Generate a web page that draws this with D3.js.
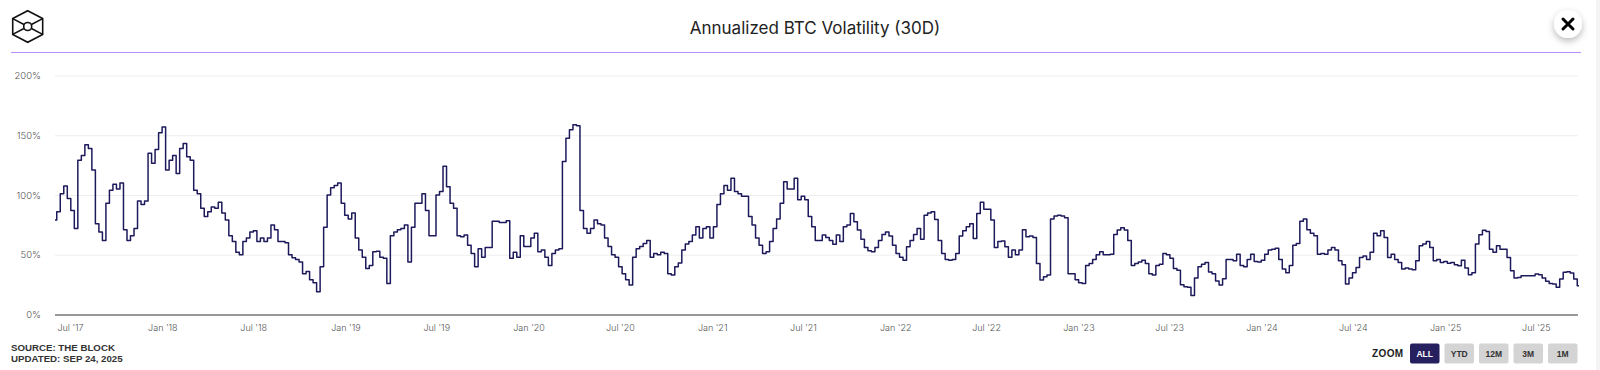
<!DOCTYPE html>
<html>
<head>
<meta charset="utf-8">
<title>Annualized BTC Volatility (30D)</title>
<script src="https://cdn.jsdelivr.net/npm/d3@7"></script>
<style>
  html, body { margin: 0; padding: 0; background: #fff; overflow: hidden; }
  svg { display: block; }
</style>
</head>
<body>
<div id="chart"></div>
<script>
const titleText = 'Annualized BTC Volatility (30D)';
const sourceLines = ['SOURCE: THE BLOCK', 'UPDATED: SEP 24, 2025'];
const zoomLabels = ['ALL', 'YTD', '12M', '3M', '1M'];

// one reading per week from this date, percent
const firstDate = '2017-06-01';
const lastDate = '2025-09-23';
const stepDays = 7;

const yTicks = [0, 50, 100, 150, 200];
const xTickDates = ['2017-07-01', '2018-01-01', '2018-07-01', '2019-01-01', '2019-07-01', '2020-01-01',
  '2020-07-01', '2021-01-01', '2021-07-01', '2022-01-01', '2022-07-01', '2023-01-01', '2023-07-01',
  '2024-01-01', '2024-07-01', '2025-01-01', '2025-07-01'];

const vol2017 = [79, 86, 101, 107.5, 97, 87, 72, 129, 133, 142, 139, 121, 76, 69, 62, 93, 104, 109, 105, 110,
  71, 62, 66, 72, 95, 92, 95, 135, 126.5, 138, 152];
const vol2018 = [157, 121, 129, 133, 118, 139, 143, 132, 129, 104, 101, 89, 82, 86, 90, 89, 94, 85, 79, 66, 61,
  52, 50, 61, 64, 69, 70, 61, 64, 61, 64, 75, 71, 61, 61, 60, 50, 47.5, 46, 44, 34, 36, 29, 26.5, 19, 40, 73, 100,
  106, 108, 110, 93];
const vol2019 = [83, 80, 85, 64, 54, 48, 38.5, 41, 52.5, 53, 48, 47, 26, 66, 69, 71, 72, 75, 44, 73, 93, 93, 101,
  87, 66, 66, 100, 103, 124, 107, 93, 89, 66, 65, 66.5, 58, 51, 40, 55, 48, 56, 56, 78, 78, 77, 77, 78.5, 47, 52,
  48, 66, 57];
const vol2020 = [57, 64, 68, 52.5, 54, 48, 41, 51, 54, 55, 128, 147.5, 154.5, 158.7, 158, 87, 72, 68, 72, 79, 76,
  75, 64, 57, 50, 48, 40, 34, 29, 24.6, 48, 55, 57, 59.5, 62, 48, 51, 50, 52, 51, 34, 33, 40, 43, 54, 59, 61, 66.5,
  73.5, 64, 72, 73.5];
const vol2021 = [64, 73.5, 92, 101, 108, 104, 114, 103, 101, 99, 99, 82, 75, 64, 58, 51, 52.5, 61, 72, 80, 93, 111,
  105, 105, 114, 96, 99, 96, 82, 73.5, 62, 62, 66.5, 64.5, 62, 58.7, 66.5, 61, 73.5, 75, 84.6, 77.6, 70.7, 63, 56,
  53.4, 52.5, 56, 62, 67, 69, 65.6];
const vol2022 = [58, 51, 48, 45.5, 56.7, 62, 67, 72, 63, 83, 85, 86, 79.6, 62, 51, 46, 45.5, 46, 51, 65.6, 70, 73.5,
  76, 63.7, 84.6, 94, 88, 88, 79, 56, 61, 61.5, 56.7, 48, 54, 50, 54, 71, 65, 65.6, 64.5, 42.7, 28.8, 31.6, 33, 80,
  82.4, 83, 82.4, 81, 34, 34];
const vol2023 = [29, 26.5, 26, 41, 42.7, 46, 50, 52.5, 50, 50, 50.5, 67, 70.7, 72.6, 70.7, 62, 41, 42.7, 44, 45.5,
  42.7, 34, 33, 41, 42, 51, 50, 47, 38.5, 37, 25, 23.3, 22.8, 16, 30.5, 40, 42, 43.6, 35.5, 34, 28, 24.7, 30, 46,
  46, 45, 50.5, 41, 40, 46, 50.5, 44.4];
const vol2024 = [44, 45.5, 50.5, 54, 54.7, 55.5, 46, 38, 35, 41, 58, 59.4, 78, 80, 71, 68, 66, 50.5, 51, 50.5, 54,
  56, 54, 45, 41.7, 25.5, 30.5, 35, 39.4, 47.8, 49, 46, 52, 68, 66, 70, 64.4, 47.8, 50.5, 46, 43.6, 38, 39, 38,
  37.5, 45, 57.5, 59, 61, 56, 45, 46];
const vol2025 = [43.6, 44.4, 42.8, 43.6, 41.7, 40.8, 45.5, 38.9, 33.3, 35, 59, 66.7, 70.5, 69.4, 54.7, 52, 57.5,
  54.7, 54.7, 47.8, 36.7, 30.5, 31, 32.5, 32.5, 32.5, 32.5, 33.9, 33.3, 30.5, 27.8, 26, 25.5, 22.8, 29.7, 35.3,
  35.8, 34.7, 29.7, 24];

const volatility = [].concat(vol2017, vol2018, vol2019, vol2020, vol2021, vol2022, vol2023, vol2024, vol2025);

const width = 1600;
const height = 370;
const margin = { top: 75.5, right: 22, bottom: 55.5, left: 55 };

const parseDate = d3.utcParse('%Y-%m-%d');
const points = volatility.map((v, i) => ({
  date: d3.utcDay.offset(parseDate(firstDate), i * stepDays),
  value: v,
}));

const svg = d3.select('#chart').append('svg').attr('width', width).attr('height', height);

// drop shadow for the close button
const shadow = svg.append('defs').append('filter').attr('id', 'btnShadow')
  .attr('x', '-50%').attr('y', '-50%').attr('width', '200%').attr('height', '200%');
shadow.append('feDropShadow').attr('dx', 0).attr('dy', 3).attr('stdDeviation', 3.5)
  .attr('flood-color', '#000').attr('flood-opacity', 0.28);

// page scrollbar strip
svg.append('rect').attr('x', 1596).attr('y', 0).attr('width', 4).attr('height', height).attr('fill', '#f4f4f4');

const x = d3.scaleUtc()
  .domain([parseDate(firstDate), parseDate(lastDate)])
  .range([margin.left, width - margin.right]);

const y = d3.scaleLinear()
  .domain([0, 200])
  .range([height - margin.bottom, margin.top]);

// logo
const logo = svg.append('g').attr('transform', 'translate(27.7,26.5)')
  .attr('fill', 'none').attr('stroke', '#111').attr('stroke-width', 1.6);
const hex = d3.range(6).map((i) => {
  const a = (Math.PI / 3) * i - Math.PI / 2;
  return [17.3 * Math.cos(a), 15.8 * Math.sin(a)];
});
logo.append('path').attr('d', d3.line()(hex) + 'Z');
[1, 2, 4, 5].forEach((i) => {
  logo.append('line').attr('x1', hex[i][0]).attr('y1', hex[i][1])
    .attr('x2', hex[i][0] * 0.25).attr('y2', hex[i][1] * 0.25);
});
logo.append('circle').attr('r', 4);

// title and rule
svg.append('text').attr('x', 815).attr('y', 34).attr('text-anchor', 'middle')
  .attr('font-family', 'Inter, Roboto, sans-serif').attr('font-size', 17).attr('fill', '#222')
  .text(titleText);

svg.append('line').attr('x1', 11).attr('x2', 1581).attr('y1', 52.5).attr('y2', 52.5)
  .attr('stroke', '#b98cff').attr('stroke-width', 1);

// close button
const closeBtn = svg.append('g').attr('transform', 'translate(1568,24)');
closeBtn.append('circle').attr('r', 14).attr('fill', '#fff').attr('filter', 'url(#btnShadow)');
closeBtn.append('path').attr('d', 'M-5,-5L5,5M5,-5L-5,5')
  .attr('stroke', '#000').attr('stroke-width', 3).attr('stroke-linecap', 'round');

// axes
const yAxis = svg.append('g')
  .attr('transform', 'translate(' + margin.left + ',0)')
  .call(d3.axisLeft(y).tickValues(yTicks).tickFormat((d) => d + '%')
    .tickSize(-(width - margin.left - margin.right)).tickPadding(14));
yAxis.select('.domain').remove();
yAxis.selectAll('.tick line').attr('stroke', (d) => (d === 0 ? '#333' : '#eeeeee')).attr('stroke-width', 1);
yAxis.selectAll('text').attr('font-family', 'Inter, Roboto, sans-serif').attr('font-size', 9.5)
  .attr('font-weight', 300).attr('fill', '#555');

const xAxis = svg.append('g')
  .attr('transform', 'translate(0,' + (height - margin.bottom) + ')')
  .call(d3.axisBottom(x).tickValues(xTickDates.map(parseDate))
    .tickFormat(d3.utcFormat("%b '%y")).tickSize(0).tickPadding(10));
xAxis.select('.domain').remove();
xAxis.selectAll('text').attr('font-family', 'Inter, Roboto, sans-serif').attr('font-size', 9)
  .attr('font-weight', 300).attr('fill', '#555');

// the series
svg.append('path')
  .datum(points)
  .attr('fill', 'none')
  .attr('stroke', '#1d1a5c')
  .attr('stroke-width', 1.5)
  .attr('stroke-linejoin', 'round')
  .attr('d', d3.line().curve(d3.curveStep).x((d) => x(d.date)).y((d) => y(d.value)));

// source note
svg.append('g').selectAll('text').data(sourceLines).enter().append('text')
  .attr('x', 11)
  .attr('y', (d, i) => 351 + i * 11.3)
  .attr('font-family', '"Liberation Sans", Arial, sans-serif')
  .attr('font-size', 9.7)
  .attr('font-weight', 700)
  .attr('fill', '#333')
  .text((d) => d);

// zoom buttons
svg.append('text').attr('x', 1372).attr('y', 356.5)
  .attr('font-family', '"Liberation Sans", Arial, sans-serif').attr('font-size', 10)
  .attr('font-weight', 700).attr('letter-spacing', 0.4).attr('fill', '#222').text('ZOOM');

const btn = svg.append('g').selectAll('g').data(zoomLabels).enter().append('g')
  .attr('transform', (d, i) => 'translate(' + (1410 + i * 34.5) + ',343.5)');
btn.append('rect').attr('width', 29.5).attr('height', 20).attr('rx', 2)
  .attr('fill', (d, i) => (i === 0 ? '#27205f' : '#d4d4d4'));
btn.append('text').attr('x', 14.75).attr('y', 13.5).attr('text-anchor', 'middle')
  .attr('font-family', '"Liberation Sans", Arial, sans-serif').attr('font-size', 8.5)
  .attr('font-weight', 700)
  .attr('fill', (d, i) => (i === 0 ? '#fff' : '#333'))
  .text((d) => d);
</script>
</body>
</html>
